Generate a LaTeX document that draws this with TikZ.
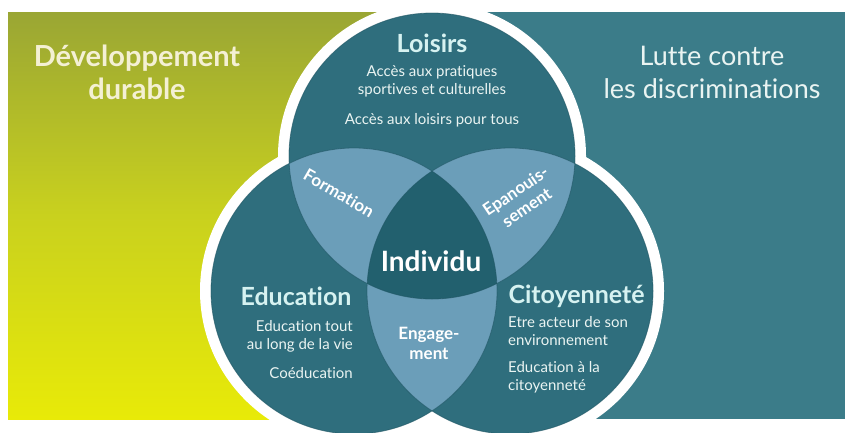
\documentclass[tikz,border=0pt]{standalone}
\usepackage{fontspec}
\setmainfont{Lato}[Ligatures={NoCommon}]
\usetikzlibrary{positioning}

\definecolor{panelteal}{HTML}{3B7C89}
\definecolor{circteal}{HTML}{2F6E7D}
\definecolor{edgeteal}{HTML}{1F5563}
\definecolor{lensblue}{HTML}{6B9EB9}
\definecolor{coreteal}{HTML}{22606E}
\definecolor{oliveTop}{HTML}{9AA634}
\definecolor{oliveMid}{HTML}{C9D11E}
\definecolor{yellowBot}{HTML}{E8EA08}
\definecolor{cream}{HTML}{F4F0D4}
\definecolor{headcyan}{HTML}{D6F2F1}
\definecolor{txtlight}{HTML}{EAF4F2}

\begin{document}
\begin{tikzpicture}[x=1pt,y=-1pt,
    hdr/.style={text=headcyan,font=\bfseries\fontsize{25}{28}\selectfont},
    sub/.style={text=txtlight,font=\fontsize{15}{18}\selectfont,inner sep=0pt},
    lenstxt/.style={text=white,font=\bfseries\fontsize{17}{20}\selectfont,align=center,inner sep=0pt},
    paneltxt/.style={font=\fontsize{27}{33}\selectfont,align=center}]
    \useasboundingbox (0,0) rectangle (845,432);
    \fill[white] (0,0) rectangle (845,432);

    % background panels
    \shade[top color=oliveTop,bottom color=yellowBot,middle color=oliveMid] (8,12) rectangle (440,419);
    \fill[panelteal] (440,12) rectangle (845,419);

    % circle centres
    \coordinate (cT) at (432,156);
    \coordinate (cL) at (354,291);
    \coordinate (cR) at (510,291);

    % white rings, then the three circles
    \foreach \c in {cT,cL,cR}
        \fill[white] (\c) circle (154);
    \foreach \c in {cT,cL,cR}
        \fill[circteal] (\c) circle (143);

    % lenses
    \begin{scope}
        \clip (cT) circle (143);
        \fill[lensblue] (cL) circle (143);
        \fill[lensblue] (cR) circle (143);
    \end{scope}
    \begin{scope}
        \clip (cL) circle (143);
        \fill[lensblue] (cR) circle (143);
    \end{scope}
    \begin{scope}
        \clip (cT) circle (143);
        \clip (cL) circle (143);
        \fill[coreteal] (cR) circle (143);
    \end{scope}
    \foreach \c in {cT,cL,cR}
        \draw[edgeteal,line width=0.8pt,opacity=0.6] (\c) circle (143);

    % panel titles
    \node[paneltxt,text=cream,font=\bfseries\fontsize{29}{33}\selectfont] (devdur) at (137,72) {Développement\\durable};
    \node[paneltxt,text=txtlight] (lutte) at (712,72) {Lutte contre\\les discriminations};

    % Loisirs
    \node[hdr] (loisirs) at (432,43) {Loisirs};
    \node[sub,align=center] (loisirsA) at (432,81) {Accès aux pratiques\\sportives et culturelles};
    \node[sub] (loisirsB) at (432,120) {Accès aux loisirs pour tous};

    % Education
    \node[hdr,anchor=east] (educ) at (355,296) {Education};
    \node[sub,align=right,anchor=north east] (educA) at (353,320) {Education tout\\au long de la vie};
    \node[sub,anchor=east] (educB) at (353,373) {Coéducation};

    % Citoyennete
    \node[hdr,anchor=west] (citoy) at (505,296) {Citoyenneté};
    \node[sub,align=left,anchor=north west] (citoyA) at (508,316) {Etre acteur de son\\environnement};
    \node[sub,align=left,anchor=north west] (citoyB) at (508,361) {Education à la\\citoyenneté};

    % lens labels and core
    \node[lenstxt,rotate=-30] (form) at (339,193) {Formation};
    \node[lenstxt,rotate=34] (epan) at (521,199) {Epanouis-\\sement};
    \node[lenstxt] (engag) at (429,343) {Engage-\\ment};
    \node[text=white,font=\bfseries\fontsize{28}{30}\selectfont] (indiv) at (431,261) {Individu};
\end{tikzpicture}
\end{document}
